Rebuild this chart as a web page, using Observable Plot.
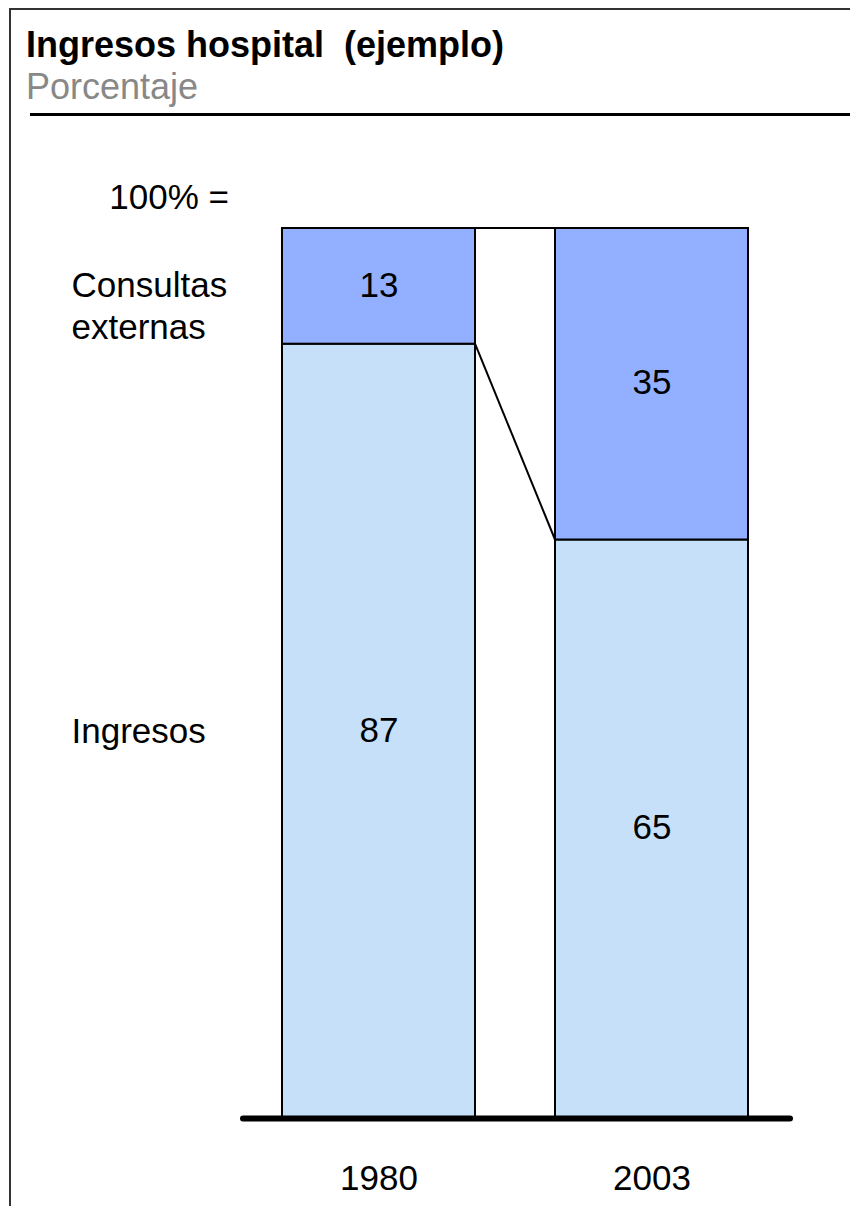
<!DOCTYPE html>
<html>
<head>
<meta charset="utf-8">
<script src="https://cdn.jsdelivr.net/npm/d3@7"></script>
<script src="https://cdn.jsdelivr.net/npm/@observablehq/plot@0.6"></script>
<style>
  html, body { margin: 0; padding: 0; background: #fff; overflow: hidden; }
  body { width: 850px; height: 1206px; position: relative; font-family: "Liberation Sans", Arial, Helvetica, sans-serif; }
  #frame { position: absolute; left: 9px; top: 8px; width: 870px; height: 1230px; border-left: 2px solid #333; border-top: 2px solid #333; }
  #title { position: absolute; left: 26px; top: 27px; font-size: 36px; line-height: 36px; font-weight: bold; color: #000; white-space: pre; }
  #subtitle { position: absolute; left: 26px; top: 69px; font-size: 36px; line-height: 36px; color: #888; }
  #rule { position: absolute; left: 30px; top: 113px; width: 830px; border-top: 3px solid #000; }
  #chart { position: absolute; left: 0; top: 120px; }
</style>
</head>
<body>
<div id="frame"></div>
<div id="title">Ingresos hospital  (ejemplo)</div>
<div id="subtitle">Porcentaje</div>
<div id="rule"></div>
<div id="chart"></div>
<script>
// Share of hospital revenue by source, 1980 vs 2003 (each bar = 100%)
const years = ["1980", "2003"];
const segments = ["Ingresos", "Consultas externas"];
const segmentLabels = ["Ingresos", "Consultas\nexternas"];
const ingresos = [87, 65];
const consultas = [13, 35];
const totalLabel = "100% =";
const colors = ["#C7E0FA", "#92B0FF"];

// Long table: bottom segment first so it stacks at the base
const rows = [];
years.forEach((year, i) => {
  rows.push({year, segment: segments[0], label: segmentLabels[0], value: ingresos[i]});
  rows.push({year, segment: segments[1], label: segmentLabels[1], value: consultas[i]});
});
const firstBar = rows.filter(d => d.year === years[0]);

const FONT = "\"Liberation Sans\", Arial, Helvetica, sans-serif";
const SIZE = 35;

// Lines bridging the two bars: the common 100% top and the shift of the segment boundary
function connectors(index, scales) {
  const {x, y} = scales;
  const bw = typeof x.bandwidth === "function" ? x.bandwidth() : 0;
  const xa = x(years[0]) + bw;
  const xb = x(years[1]);
  const ns = "http://www.w3.org/2000/svg";
  const g = document.createElementNS(ns, "g");
  const pairs = [[100, 100], [ingresos[0], ingresos[1]]];
  for (const [ya, yb] of pairs) {
    const l = document.createElementNS(ns, "line");
    l.setAttribute("x1", xa);
    l.setAttribute("x2", xb);
    l.setAttribute("y1", y(ya));
    l.setAttribute("y2", y(yb));
    l.setAttribute("stroke", "#000");
    l.setAttribute("stroke-width", 2);
    g.appendChild(l);
  }
  return g;
}

const chart = Plot.plot({
  width: 850,
  height: 1086,
  marginTop: 108,
  marginBottom: 88,
  marginLeft: 71,
  marginRight: 0,
  style: {fontFamily: FONT, fontSize: SIZE + "px", color: "#000", background: "transparent"},
  x: {domain: years, range: [282, 748], paddingInner: 0.293, paddingOuter: 0, round: false,
      tickSize: 0, tickPadding: 47, label: null},
  y: {domain: [0, 100], axis: null},
  color: {domain: segments, range: colors},
  marks: [
    Plot.barY(rows, {x: "year", y: "value", fill: "segment", stroke: "#000", strokeWidth: 2}),
    connectors,
    Plot.ruleY([0], {stroke: "#000", strokeWidth: 6, strokeLinecap: "round", insetLeft: 172, insetRight: 60}),
    Plot.text(rows, Plot.stackY({x: "year", y: "value", text: "value", fontSize: SIZE, fill: "#000", dy: -1})),
    // Segment names beside the first bar, level with each segment's middle
    Plot.text(firstBar, Plot.stackY({y: "value", text: d => d.segment === segments[0] ? d.label : null,
      frameAnchor: "left", textAnchor: "start", fontSize: SIZE, fill: "#000"})),
    Plot.text(firstBar, Plot.stackY({y: "value", text: d => d.segment === segments[1] ? d.label : null,
      frameAnchor: "left", textAnchor: "start", fontSize: SIZE, fill: "#000", lineHeight: 1.2, dy: 18})),
    Plot.text([totalLabel], {x: () => years[0], y: () => 100, text: d => d, textAnchor: "end",
      dx: -150, dy: -31, fontSize: SIZE, fill: "#000"})
  ]
});
document.getElementById("chart").appendChild(chart);
</script>
</body>
</html>
